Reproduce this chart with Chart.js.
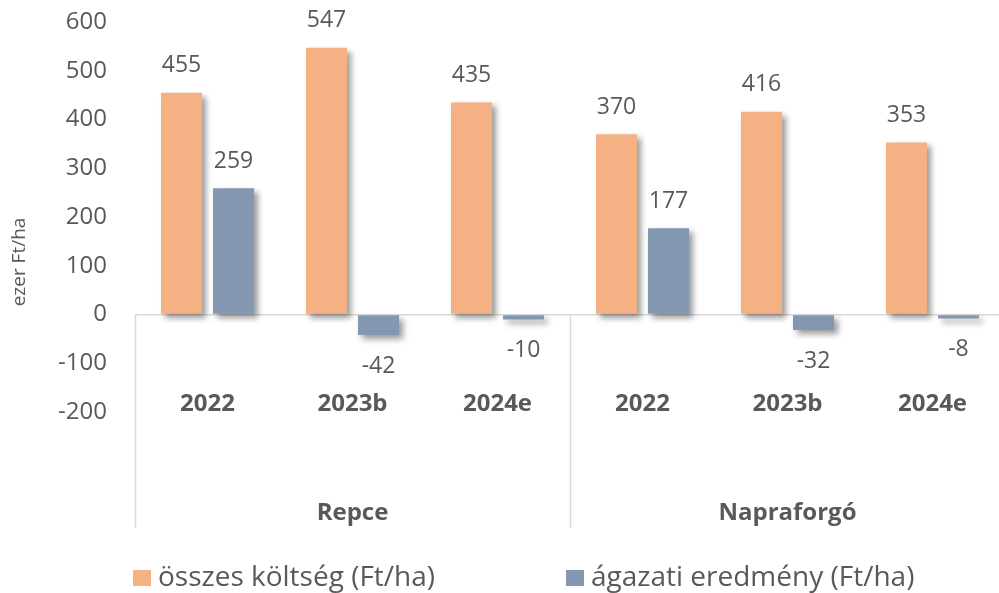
<!DOCTYPE html>
<html>
<head>
<meta charset="utf-8">
<script src="https://cdn.jsdelivr.net/npm/chart.js@4"></script>
<style>
  html, body { margin: 0; padding: 0; background: #fff; overflow: hidden; }
  #wrap { width: 1010px; height: 593px; }
</style>
</head>
<body>
<div id="wrap"><canvas id="barChart" width="1010" height="593"></canvas></div>
<script>
var categories = ['2022', '2023b', '2024e', '2022', '2023b', '2024e'];
var groups = ['Repce', 'Napraforgó'];
var groupSize = 3;
var osszesKoltseg = [455, 547, 435, 370, 416, 353];
var agazatiEredmeny = [259, -42, -10, 177, -32, -8];
var seriesNames = ['összes költség (Ft/ha)', 'ágazati eredmény (Ft/ha)'];
var yMin = -200, yMax = 600, yStep = 100;

var textColor = '#595959';
var font = '"Open Sans", sans-serif';

// bar shadow + labels, category/group axis, legend
var decorations = {
    id: 'decorations',
    beforeDatasetsDraw: function (chart) {
        var c = chart.ctx;
        c.save();
        c.shadowColor = 'rgba(0,0,0,0.4)';
        c.shadowBlur = 6;
        c.shadowOffsetX = 4;
        c.shadowOffsetY = 4;
    },
    afterDatasetsDraw: function (chart) {
        var c = chart.ctx;
        c.restore();
        var x = chart.scales.x;

        // data labels
        c.save();
        c.fillStyle = textColor;
        c.font = '23px ' + font;
        c.textAlign = 'center';
        c.textBaseline = 'middle';
        chart.data.datasets.forEach(function (ds, di) {
            chart.getDatasetMeta(di).data.forEach(function (bar, i) {
                var v = ds.data[i];
                var y = v >= 0 ? bar.y - 27 : bar.y + 31;
                c.fillText(String(v), bar.x, y);
            });
        });

        // category labels
        c.font = 'bold 24px ' + font;
        categories.forEach(function (lab, i) {
            c.fillText(lab, x.getPixelForValue(i), 404);
        });
        groups.forEach(function (g, gi) {
            var mid = (gi * groupSize + (gi + 1) * groupSize - 1) / 2;
            c.fillText(g, x.getPixelForValue(mid), 513);
        });

        // separators
        var zero = chart.scales.y.getPixelForValue(0);
        c.strokeStyle = '#d9d9d9';
        c.lineWidth = 1.5;
        for (var k = 0; k <= groups.length; k++) {
            var px = Math.round(x.getPixelForValue(k * groupSize - 0.5)) + 0.5;
            c.beginPath();
            c.moveTo(px, zero);
            c.lineTo(px, 528);
            c.stroke();
        }

        // y title
        c.save();
        c.translate(20, 262);
        c.rotate(-Math.PI / 2);
        c.font = '19px ' + font;
        c.fillText('ezer Ft/ha', 0, 0);
        c.restore();

        // legend
        c.font = '28px ' + font;
        c.textAlign = 'left';
        var legendX = [133, 566];
        chart.data.datasets.forEach(function (ds, di) {
            c.fillStyle = ds.backgroundColor;
            c.fillRect(legendX[di], 570, 18, 16);
            c.fillStyle = textColor;
            c.fillText(ds.label, legendX[di] + 25, 578);
        });
        c.restore();
    }
};

var ctx = document.getElementById('barChart').getContext('2d');
var myChart = new Chart(ctx, {
    type: 'bar',
    data: {
        labels: categories,
        datasets: [{
            label: seriesNames[0],
            data: osszesKoltseg,
            backgroundColor: '#F4B183'
        }, {
            label: seriesNames[1],
            data: agazatiEredmeny,
            backgroundColor: '#8497B0'
        }]
    },
    options: {
        responsive: false,
        animation: false,
        events: [],
        layout: { padding: { top: 22, bottom: 181, right: 5, left: 0 } },
        categoryPercentage: 0.717,
        barPercentage: 0.79,
        plugins: {
            legend: { display: false },
            tooltip: { enabled: false }
        },
        scales: {
            x: { display: false },
            y: {
                min: yMin,
                max: yMax,
                afterFit: function (scale) {
                    scale.width = 135;
                    scale.paddingTop = 0;
                    scale.paddingBottom = 0;
                },
                border: { display: false },
                grid: {
                    drawTicks: false,
                    lineWidth: 1.5,
                    color: function (c) { return c.tick && c.tick.value === 0 ? '#d9d9d9' : 'rgba(0,0,0,0)'; }
                },
                ticks: {
                    stepSize: yStep,
                    padding: 28,
                    color: textColor,
                    font: { family: font, size: 24 }
                }
            }
        }
    },
    plugins: [decorations]
});
</script>
</body>
</html>
